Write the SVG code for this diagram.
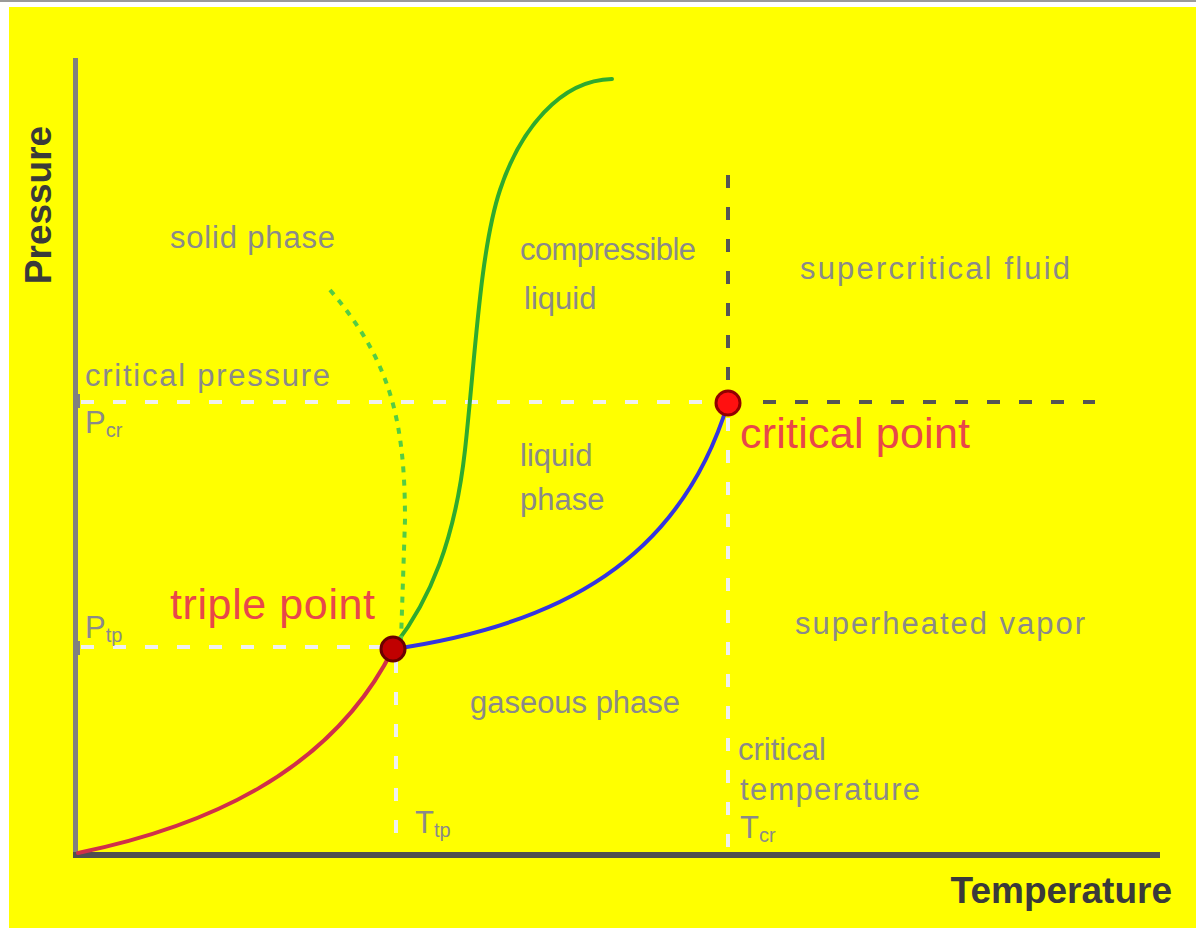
<svg xmlns="http://www.w3.org/2000/svg" width="1196" height="928" viewBox="0 0 1196 928">
<style>
.lbl{font-family:"Liberation Sans",Arial,sans-serif;font-size:31px;fill:#8a8a8a}
.red{font-family:"Liberation Sans",Arial,sans-serif;font-size:43px;fill:#e8474a}
.ax{font-family:"Liberation Sans",Arial,sans-serif;font-size:37px;font-weight:bold;fill:#3a3a3a}
.wd{stroke:#f0f0f0;stroke-width:4;stroke-dasharray:13 19;fill:none}
.gd{stroke:#555;stroke-width:4;stroke-dasharray:13 19;fill:none}
</style>
<rect x="0" y="0" width="1196" height="928" fill="#ffffff"/>
<rect x="0" y="0" width="1196" height="2" fill="#9a9a9a"/>
<rect x="9" y="7" width="1187" height="921" fill="#ffff00"/>

<g id="guides">
<path class="wd" d="M81,402 H720"/>
<path class="gd" d="M763,402 H1095"/>
<path class="wd" d="M81,647 H385"/>
<path class="wd" d="M396,660 V852"/>
<path class="gd" d="M728,175 V392"/>
<path class="wd" d="M728,418 V852"/>
</g>

<g id="axes">
<rect x="73" y="58" width="5" height="799" fill="#808080"/>
<rect x="77" y="394" width="3" height="14" fill="#808080"/>
<rect x="77" y="641" width="3" height="14" fill="#808080"/>
<rect x="73" y="852" width="1087" height="6" fill="#505050"/>
</g>

<g id="connectors" fill="none" stroke-linecap="round">
<path id="sublimation" d="M78,853 C200,828 330,775 393,649" stroke="#d0304a" stroke-width="4"/>
<path id="vaporization" d="M393,649 C560,625 680,560 728,403" stroke="#3535e0" stroke-width="4"/>
<path id="melting" d="M395,645 C430,600 455,540 465,450 C475,360 480,250 500,190 C520,130 560,80 612,79" stroke="#2faa2f" stroke-width="4"/>
<path id="anomaly" d="M330,290 C390,360 405,420 405,520 L401,640" stroke="#55cc44" stroke-width="4" stroke-dasharray="6 7" stroke-linecap="butt"/>
</g>

<g id="triple-point">
<circle cx="393" cy="649" r="12" fill="#c00000" stroke="#6a0000" stroke-width="3"/>
<text class="red" x="170" y="619" textLength="205">triple point</text>
</g>
<g id="critical-point">
<circle cx="728" cy="403" r="12" fill="#ff1010" stroke="#900000" stroke-width="3"/>
<text class="red" x="740" y="448" textLength="230">critical point</text>
</g>

<g id="labels">
<text class="lbl" x="170" y="248" textLength="165">solid phase</text>
<text class="lbl" x="520" y="260" textLength="176">compressible</text>
<text class="lbl" x="524" y="309">liquid</text>
<text class="lbl" x="800" y="279" textLength="270">supercritical fluid</text>
<text class="lbl" x="85" y="386" textLength="245">critical pressure</text>
<text class="lbl" x="85" y="433">P<tspan font-size="20" dy="4">cr</tspan></text>
<text class="lbl" x="520" y="466">liquid</text>
<text class="lbl" x="520" y="510">phase</text>
<text class="lbl" x="85" y="638">P<tspan font-size="20" dy="4">tp</tspan></text>
<text class="lbl" x="795" y="634" textLength="290">superheated vapor</text>
<text class="lbl" x="470" y="713" textLength="210">gaseous phase</text>
<text class="lbl" x="738" y="760">critical</text>
<text class="lbl" x="740" y="800" textLength="180">temperature</text>
<text class="lbl" x="740" y="838">T<tspan font-size="20" dy="4">cr</tspan></text>
<text class="lbl" x="415" y="833">T<tspan font-size="20" dy="4">tp</tspan></text>
</g>

<g id="axis-labels">
<text class="ax" x="1172" y="903" text-anchor="end">Temperature</text>
<text class="ax" transform="translate(51,205) rotate(-90)" text-anchor="middle">Pressure</text>
</g>
</svg>
